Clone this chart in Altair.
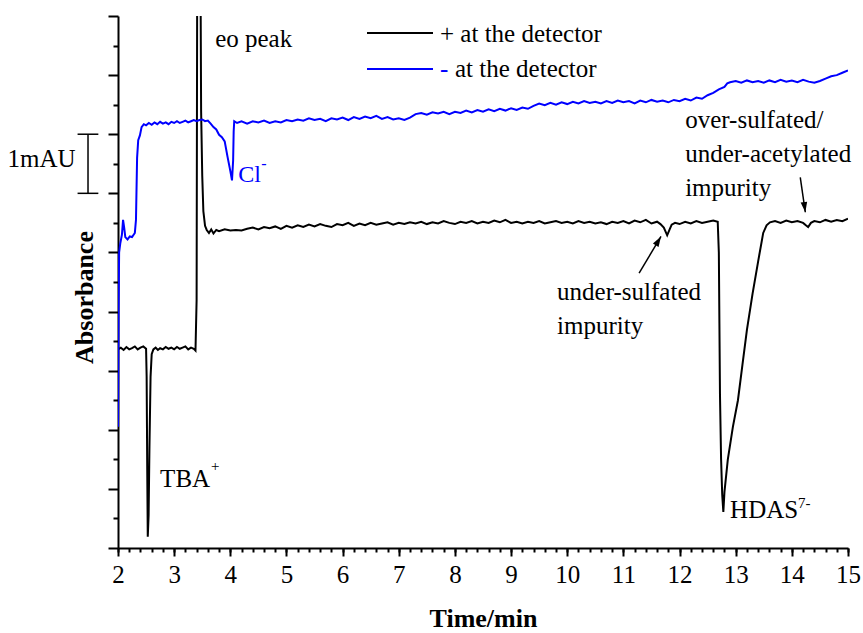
import altair as alt
import pandas as pd

FONT = "Liberation Serif"

# ---- data (time in min, absorbance in mAU units) ----
black_trace = [
    (2.00, 3.36), (2.05, 3.39), (2.10, 3.35), (2.15, 3.40), (2.20, 3.36), (2.25, 3.38),
    (2.30, 3.41), (2.35, 3.36), (2.40, 3.39), (2.45, 3.41), (2.50, 3.37), (2.51, 2.90),
    (2.52, 1.40), (2.53, 0.19), (2.545, 0.55), (2.56, 1.70), (2.58, 2.90), (2.60, 3.28),
    (2.63, 3.36), (2.67, 3.39), (2.71, 3.35), (2.75, 3.38), (2.80, 3.36), (2.85, 3.40),
    (2.90, 3.37), (2.95, 3.39), (3.00, 3.36), (3.05, 3.40), (3.10, 3.37), (3.15, 3.39),
    (3.20, 3.41), (3.25, 3.36), (3.30, 3.39), (3.35, 3.37), (3.38, 3.34),
    (3.40, 4.20), (3.41, 9.50), (3.42, 13.0), (3.46, 13.0), (3.47, 9.60), (3.48, 7.40),
    (3.50, 6.30), (3.52, 5.70), (3.55, 5.45), (3.58, 5.38), (3.62, 5.33), (3.66, 5.39),
    (3.70, 5.32), (3.75, 5.38), (3.80, 5.36), (3.90, 5.39), (4.00, 5.37), (4.10, 5.38),
    (4.20, 5.37), (4.30, 5.40), (4.40, 5.42), (4.50, 5.39), (4.60, 5.43), (4.70, 5.41),
    (4.80, 5.44), (4.90, 5.40), (5.00, 5.45), (5.10, 5.42), (5.20, 5.46), (5.30, 5.43),
    (5.40, 5.47), (5.50, 5.44), (5.60, 5.48), (5.70, 5.45), (5.80, 5.43), (5.90, 5.48),
    (6.00, 5.46), (6.10, 5.50), (6.20, 5.45), (6.30, 5.49), (6.40, 5.46), (6.50, 5.50),
    (6.60, 5.47), (6.70, 5.49), (6.80, 5.51), (6.90, 5.47), (7.00, 5.50), (7.10, 5.48),
    (7.20, 5.51), (7.30, 5.49), (7.40, 5.52), (7.50, 5.48), (7.60, 5.51), (7.70, 5.49),
    (7.80, 5.53), (7.90, 5.50), (8.00, 5.48), (8.10, 5.52), (8.20, 5.50), (8.30, 5.53),
    (8.40, 5.49), (8.50, 5.52), (8.60, 5.50), (8.70, 5.54), (8.80, 5.51), (8.90, 5.55),
    (9.00, 5.50), (9.10, 5.52), (9.20, 5.49), (9.30, 5.52), (9.40, 5.50), (9.50, 5.53),
    (9.60, 5.49), (9.70, 5.51), (9.80, 5.53), (9.90, 5.50), (10.00, 5.52), (10.10, 5.49),
    (10.20, 5.53), (10.30, 5.50), (10.40, 5.52), (10.50, 5.49), (10.60, 5.51), (10.70, 5.48),
    (10.80, 5.52), (10.90, 5.50), (11.00, 5.53), (11.10, 5.49), (11.20, 5.54), (11.30, 5.51),
    (11.40, 5.55), (11.50, 5.49), (11.60, 5.52), (11.66, 5.48), (11.72, 5.42), (11.78, 5.29),
    (11.82, 5.38), (11.86, 5.47), (11.92, 5.50), (12.00, 5.48), (12.10, 5.52), (12.20, 5.49),
    (12.30, 5.53), (12.40, 5.50), (12.50, 5.52), (12.60, 5.54), (12.68, 5.52),
    (12.70, 5.00), (12.71, 3.80), (12.72, 2.60), (12.74, 1.50), (12.76, 0.90), (12.78, 0.61),
    (12.80, 0.95), (12.86, 1.50), (12.95, 2.05), (13.04, 2.50), (13.12, 3.10), (13.20, 3.69),
    (13.30, 4.30), (13.40, 4.85), (13.49, 5.33), (13.55, 5.46), (13.61, 5.51), (13.70, 5.53),
    (13.80, 5.50), (13.90, 5.54), (14.00, 5.51), (14.10, 5.53), (14.20, 5.50), (14.25, 5.46),
    (14.29, 5.43), (14.34, 5.50), (14.40, 5.53), (14.50, 5.51), (14.60, 5.55), (14.70, 5.52),
    (14.80, 5.55), (14.90, 5.53), (15.00, 5.57),
]

blue_trace = [
    (2.00, 2.05), (2.01, 4.00), (2.02, 5.00), (2.04, 5.15), (2.07, 5.30), (2.09, 5.55),
    (2.11, 5.42), (2.13, 5.26), (2.17, 5.22), (2.21, 5.27), (2.25, 5.26), (2.30, 5.33),
    (2.32, 5.55), (2.34, 6.60), (2.36, 6.90), (2.39, 6.98), (2.42, 7.12), (2.46, 7.17),
    (2.50, 7.15), (2.55, 7.19), (2.60, 7.16), (2.65, 7.20), (2.70, 7.17), (2.75, 7.21),
    (2.80, 7.18), (2.85, 7.20), (2.90, 7.17), (2.95, 7.21), (3.00, 7.19), (3.05, 7.22),
    (3.10, 7.19), (3.15, 7.21), (3.20, 7.23), (3.25, 7.20), (3.30, 7.22), (3.35, 7.24),
    (3.40, 7.22), (3.45, 7.24), (3.50, 7.25), (3.55, 7.22), (3.60, 7.23), (3.65, 7.18),
    (3.70, 7.12), (3.75, 7.08), (3.80, 6.99), (3.85, 6.95), (3.90, 6.88), (3.95, 6.62),
    (4.00, 6.38), (4.03, 6.22), (4.05, 6.55), (4.06, 7.05), (4.07, 7.22), (4.12, 7.19),
    (4.20, 7.22), (4.30, 7.18), (4.40, 7.22), (4.50, 7.20), (4.60, 7.23), (4.70, 7.19),
    (4.80, 7.22), (4.90, 7.20), (5.00, 7.24), (5.10, 7.22), (5.20, 7.25), (5.30, 7.23),
    (5.40, 7.27), (5.50, 7.24), (5.60, 7.26), (5.70, 7.22), (5.80, 7.27), (5.90, 7.25),
    (6.00, 7.28), (6.10, 7.24), (6.20, 7.29), (6.30, 7.26), (6.40, 7.30), (6.50, 7.27),
    (6.60, 7.31), (6.70, 7.26), (6.80, 7.29), (6.90, 7.25), (7.00, 7.27), (7.10, 7.24),
    (7.20, 7.28), (7.30, 7.34), (7.40, 7.36), (7.50, 7.33), (7.60, 7.37), (7.70, 7.35),
    (7.80, 7.38), (7.90, 7.34), (8.00, 7.38), (8.10, 7.36), (8.20, 7.40), (8.30, 7.37),
    (8.40, 7.41), (8.50, 7.38), (8.60, 7.42), (8.70, 7.39), (8.80, 7.43), (8.90, 7.40),
    (9.00, 7.44), (9.10, 7.41), (9.20, 7.45), (9.30, 7.43), (9.40, 7.48), (9.50, 7.52),
    (9.60, 7.49), (9.70, 7.53), (9.80, 7.50), (9.90, 7.54), (10.00, 7.51), (10.10, 7.55),
    (10.20, 7.52), (10.30, 7.56), (10.40, 7.53), (10.50, 7.55), (10.60, 7.52), (10.70, 7.56),
    (10.80, 7.53), (10.90, 7.57), (11.00, 7.54), (11.10, 7.56), (11.20, 7.52), (11.30, 7.57),
    (11.40, 7.54), (11.50, 7.58), (11.60, 7.55), (11.70, 7.57), (11.80, 7.54), (11.90, 7.58),
    (12.00, 7.56), (12.10, 7.60), (12.20, 7.57), (12.30, 7.62), (12.40, 7.60), (12.50, 7.66),
    (12.60, 7.70), (12.70, 7.76), (12.80, 7.80), (12.85, 7.86), (12.90, 7.88), (13.00, 7.90),
    (13.10, 7.87), (13.20, 7.91), (13.30, 7.88), (13.40, 7.90), (13.50, 7.87), (13.60, 7.91),
    (13.70, 7.88), (13.80, 7.92), (13.90, 7.89), (14.00, 7.91), (14.10, 7.88), (14.20, 7.92),
    (14.30, 7.89), (14.40, 7.87), (14.50, 7.90), (14.60, 7.94), (14.70, 7.98), (14.80, 8.00),
    (14.90, 8.04), (15.00, 8.08),
]

# tick values
x_major = list(range(2, 16))
x_minor = [round(2 + 0.2 * i, 1) for i in range(66)]
y_major = list(range(0, 10))
y_minor = [i + 0.5 for i in range(9)]

# annotations (time, absorbance, text)
main_labels = [
    (3.73, 8.47, "eo peak"),
    (2.75, 1.03, "TBA"),
    (12.90, 0.51, "HDAS"),
    (9.82, 4.19, "under-sulfated\nimpurity"),
    (12.10, 7.10, "over-sulfated/\nunder-acetylated\nimpurity"),
]
sup_labels = [
    (2.75, 1.03, "+", 51, -16),
    (12.90, 0.51, "7-", 68, -10),
]
cl_label = (4.14, 6.19, "Cl")
arrows = [
    (11.28, 4.65, 11.67, 5.27, 31),
    (14.15, 6.27, 14.24, 5.68, 172),
]
scale_bar = (1.466, 6.0, 7.0, 1.28, 1.65)

xs = alt.Scale(domain=[2, 15], nice=False, zero=False)
ys = alt.Scale(domain=[0, 9], nice=False, zero=False)

black_df = pd.DataFrame(black_trace, columns=["t", "v"])
blue_df = pd.DataFrame(blue_trace, columns=["t", "v"])

black = alt.Chart(black_df).mark_line(color="black", strokeWidth=2, clip=True).encode(
    x=alt.X("t:Q", scale=xs, axis=alt.Axis(
        orient="bottom", values=x_major, tickSize=8, tickWidth=2, domainWidth=2,
        domainColor="black", tickColor="black", labelFont=FONT, labelFontSize=25,
        labelColor="black", labelPadding=6, labelFlush=False, grid=False,
        title="Time/min", titleFont=FONT, titleFontSize=26, titleFontWeight="bold",
        titleColor="black", titlePadding=18)),
    y=alt.Y("v:Q", scale=ys, axis=alt.Axis(
        orient="left", values=y_major, labels=False, tickSize=10, tickWidth=2,
        domainWidth=2, domainColor="black", tickColor="black", grid=False,
        title="Absorbance", titleFont=FONT, titleFontSize=26, titleFontWeight="bold",
        titleColor="black", titlePadding=10, titleY=281)),
)

blue = alt.Chart(blue_df).mark_line(color="#0000ff", strokeWidth=2, clip=True).encode(
    x=alt.X("t:Q", scale=xs, axis=alt.Axis(
        orient="bottom", values=x_minor, labels=False, domain=False, tickSize=4,
        tickWidth=2, tickColor="black", grid=False, title="")),
    y=alt.Y("v:Q", scale=ys, axis=alt.Axis(
        orient="left", values=y_minor, labels=False, domain=False, tickSize=5,
        tickWidth=2, tickColor="black", grid=False, title="")),
)

def xq():
    return alt.X("t:Q", scale=xs, axis=None)

def yq():
    return alt.Y("v:Q", scale=ys, axis=None)

lab_df = pd.DataFrame(main_labels, columns=["t", "v", "text"])
labels = alt.Chart(lab_df).mark_text(
    font=FONT, fontSize=25, align="left", baseline="alphabetic", color="black",
    lineBreak="\n", lineHeight=34,
).encode(x=xq(), y=yq(), text="text:N")

sup_layers = []
for t, v, s, dx, dy in sup_labels:
    sup_layers.append(
        alt.Chart(pd.DataFrame([{"t": t, "v": v, "text": s}])).mark_text(
            font=FONT, fontSize=15, align="left", baseline="alphabetic",
            color="black", dx=dx, dy=dy,
        ).encode(x=xq(), y=yq(), text="text:N")
    )

cl_df = pd.DataFrame([{"t": cl_label[0], "v": cl_label[1], "text": cl_label[2]}])
cl = alt.Chart(cl_df).mark_text(
    font=FONT, fontSize=24, align="left", baseline="alphabetic", color="#0000ff",
).encode(x=xq(), y=yq(), text="text:N")
cl_sup = alt.Chart(cl_df).mark_text(
    font=FONT, fontSize=16, align="left", baseline="alphabetic", color="#0000ff",
    dx=23, dy=-13, text="-",
).encode(x=xq(), y=yq())

arr_df = pd.DataFrame(arrows, columns=["t", "v", "t2", "v2", "ang"])
arrow_lines = alt.Chart(arr_df).mark_rule(color="black", strokeWidth=1.5).encode(
    x=xq(), y=yq(), x2="t2:Q", y2="v2:Q")
arrow_heads = alt.Chart(arr_df).mark_point(
    shape="M0,0 L-0.32,1 L0.32,1 Z", filled=True, color="black", size=420, opacity=1,
).encode(
    x=alt.X("t2:Q", scale=xs, axis=None),
    y=alt.Y("v2:Q", scale=ys, axis=None),
    angle=alt.Angle("ang:Q", scale=None),
)

sb_df = pd.DataFrame([{
    "t": scale_bar[0], "v": scale_bar[1], "v2": scale_bar[2],
    "c1": scale_bar[3], "c2": scale_bar[4], "text": "1mAU"}])
bar_v = alt.Chart(sb_df).mark_rule(color="black", strokeWidth=1.5).encode(
    x=xq(), y=yq(), y2="v2:Q")
bar_c1 = alt.Chart(sb_df).mark_rule(color="black", strokeWidth=1.5).encode(
    x=alt.X("c1:Q", scale=xs, axis=None), x2="c2:Q", y=yq())
bar_c2 = alt.Chart(sb_df).mark_rule(color="black", strokeWidth=1.5).encode(
    x=alt.X("c1:Q", scale=xs, axis=None), x2="c2:Q",
    y=alt.Y("v2:Q", scale=ys, axis=None))
bar_text = alt.Chart(sb_df).mark_text(
    font=FONT, fontSize=25, align="right", baseline="alphabetic", color="black", dx=-2,
).encode(x=alt.X("c1:Q", scale=xs, axis=None),
         y=alt.value(151), text="text:N")

# legend drawn by hand at the top of the plot
leg_black_line = alt.Chart().mark_rule(color="black", strokeWidth=2).encode(
    x=alt.value(249), x2=alt.value(315), y=alt.value(17))
leg_blue_line = alt.Chart().mark_rule(color="#0000ff", strokeWidth=2).encode(
    x=alt.value(249), x2=alt.value(315), y=alt.value(53))
leg_t1 = alt.Chart().mark_text(
    font=FONT, fontSize=25, align="left", baseline="alphabetic", color="black",
    text="+ at the detector").encode(x=alt.value(322), y=alt.value(26))
leg_t2a = alt.Chart().mark_text(
    font=FONT, fontSize=25, align="left", baseline="alphabetic", color="#0000ff",
    text="-").encode(x=alt.value(322), y=alt.value(61))
leg_t2b = alt.Chart().mark_text(
    font=FONT, fontSize=25, align="left", baseline="alphabetic", color="black",
    text="at the detector").encode(x=alt.value(337), y=alt.value(61))

chart = alt.layer(
    black, blue, labels, *sup_layers, cl, cl_sup, arrow_lines, arrow_heads,
    bar_v, bar_c1, bar_c2, bar_text,
    leg_black_line, leg_blue_line, leg_t1, leg_t2a, leg_t2b,
).resolve_axis(
    x="independent", y="independent"
).properties(
    width=730, height=532,
    autosize=alt.AutoSizeParams(type="none"),
    padding={"left": 118, "top": 16, "right": 15, "bottom": 85},
    background="white",
).configure_view(stroke=None)

chart.save("out.html", embed_options={"renderer": "svg", "actions": False})
